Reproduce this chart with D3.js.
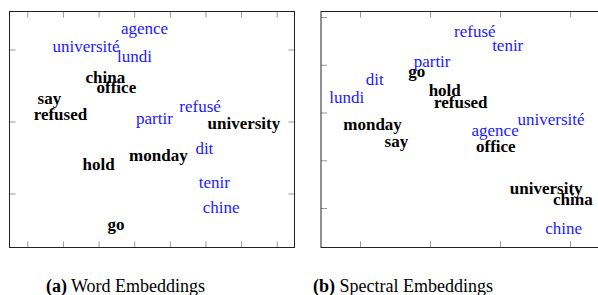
<!DOCTYPE html>
<html>
<head>
<meta charset="utf-8">
<script src="https://cdn.jsdelivr.net/npm/d3@7"></script>
<style>
  body { margin: 0; background: #fff; }
  svg text { font-family: 'Liberation Serif', 'Times New Roman', 'DejaVu Serif', serif; }
</style>
</head>
<body>
<svg width="598" height="295"></svg>
<script>
// (a) word embeddings: english words (bold black) and french words (blue)
const wordEnglish = ["china", "office", "say", "refused", "university", "monday", "hold", "go"]
const wordEnglishX = [-1.31, -1.00, -2.88, -2.57, 2.58, 0.18, -1.50, -1.01]
const wordEnglishY = [0.62, 0.48, 0.33, 0.11, -0.02, -0.47, -0.59, -1.43]
const wordFrench = ["agence", "université", "lundi", "partir", "refusé", "dit", "tenir", "chine"]
const wordFrenchX = [-0.21, -1.85, -0.49, 0.07, 1.35, 1.47, 1.75, 1.94]
const wordFrenchY = [1.30, 1.05, 0.91, 0.05, 0.21, -0.37, -0.84, -1.19]

// (b) spectral embeddings
const specEnglish = ["go", "hold", "refused", "monday", "say", "office", "university", "china"]
const specEnglishX = [-0.69, -0.29, -0.06, -1.32, -0.98, 0.44, 1.16, 1.54]
const specEnglishY = [0.87, 0.47, 0.22, -0.25, -0.60, -0.71, -1.58, -1.82]
const specFrench = ["refusé", "tenir", "partir", "dit", "lundi", "université", "agence", "chine"]
const specFrenchX = [0.14, 0.61, -0.47, -1.29, -1.69, 1.23, 0.43, 1.41]
const specFrenchY = [1.70, 1.42, 1.07, 0.69, 0.32, -0.13, -0.36, -2.42]

const wordTicksX = [-3.5, -2.5, -1.5, -0.5, 0.5, 1.5, 2.5, 3.5]
const wordTicksY = [-1, 0, 1]
const specTicksX = [-1.5, -0.5, 0.5, 1.5, 2.5]
const specTicksY = [-2, -1, 0, 1, 2]

const svg = d3.select("svg")

function panel(o) {
    const x = d3.scaleLinear().domain(o.xDomain).range([o.left, o.right])
    const y = d3.scaleLinear().domain(o.yDomain).range([o.bottom, o.top])
    const g = svg.append("g")
    const tl = 6

    const axes = [
        [d3.axisTop(x).tickValues(o.ticksX), `translate(0,${o.top})`],
        [d3.axisBottom(x).tickValues(o.ticksX), `translate(0,${o.bottom})`],
        [d3.axisLeft(y).tickValues(o.ticksY), `translate(${o.left},0)`],
        [d3.axisRight(y).tickValues(o.ticksY), `translate(${o.right},0)`]
    ]
    axes.forEach(([ax, tr]) => {
        const a = g.append("g").attr("transform", tr)
            .call(ax.tickSize(-tl).tickFormat(""))
        a.select(".domain").remove()
        a.selectAll("line").attr("stroke", "#999")
    })

    g.append("rect")
        .attr("x", o.left).attr("y", o.top)
        .attr("width", o.right - o.left).attr("height", o.bottom - o.top)
        .attr("fill", "none").attr("stroke", "#222").attr("stroke-width", 1)

    const labels = (names, xs, ys, color, weight) => {
        g.append("g").selectAll("text")
            .data(names)
            .enter().append("text")
            .attr("x", (d, i) => x(xs[i]))
            .attr("y", (d, i) => y(ys[i]))
            .attr("dy", "0.35em")
            .attr("text-anchor", "middle")
            .attr("font-size", 17)
            .attr("font-weight", weight)
            .attr("fill", color)
            .text(d => d)
    }
    labels(o.english, o.englishX, o.englishY, "#000", "bold")
    labels(o.french, o.frenchX, o.frenchY, "#1a1aff", "normal")

    const cap = svg.append("text")
        .attr("x", o.capX).attr("y", 292)
        .attr("text-anchor", "middle")
        .attr("font-size", 18)
    cap.append("tspan").attr("font-weight", "bold").text(o.capTag)
    cap.append("tspan").text(" " + o.caption)
}

panel({
    left: 9.5, right: 294.5, top: 11.5, bottom: 247.5,
    xDomain: [-4, 4], yDomain: [-1.75, 1.528],
    ticksX: wordTicksX, ticksY: wordTicksY,
    english: wordEnglish, englishX: wordEnglishX, englishY: wordEnglishY,
    french: wordFrench, frenchX: wordFrenchX, frenchY: wordFrenchY,
    capX: 125.5, capTag: "(a)", caption: "Word Embeddings"
})

panel({
    left: 321, right: 606, top: 11.5, bottom: 247.5,
    xDomain: [-2.057, 2.014], yDomain: [-2.827, 2.115],
    ticksX: specTicksX, ticksY: specTicksY,
    english: specEnglish, englishX: specEnglishX, englishY: specEnglishY,
    french: specFrench, frenchX: specFrenchX, frenchY: specFrenchY,
    capX: 403, capTag: "(b)", caption: "Spectral Embeddings"
})
</script>
</body>
</html>
